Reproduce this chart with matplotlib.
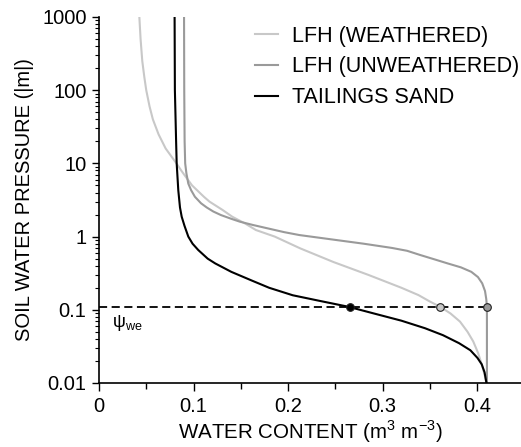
import numpy as np
import matplotlib
matplotlib.use('Agg')
import matplotlib.pyplot as plt
from matplotlib import ticker

plt.rcParams['font.family'] = ['Liberation Sans', 'DejaVu Sans']
plt.rcParams['mathtext.fontset'] = 'custom'
plt.rcParams['mathtext.rm'] = 'Liberation Sans'

# water retention curves: suction (m) vs water content
p_weath = [1000, 500, 250, 150, 100, 60, 40, 25, 16, 12, 10, 8, 6.5, 5, 3.5, 3.0, 2.3, 1.87,
           1.5, 1.23, 1.0, 0.69, 0.45, 0.3, 0.2, 0.159, 0.13, 0.11, 0.089, 0.069, 0.05,
           0.037, 0.026, 0.018, 0.013, 0.01]
th_weath = [0.0427, 0.0440, 0.0458, 0.0480, 0.0500, 0.0535, 0.0570, 0.0630, 0.0705, 0.0775,
            0.0820, 0.0870, 0.0920, 0.0985, 0.111, 0.117, 0.131, 0.141, 0.155, 0.166, 0.186,
            0.213, 0.248, 0.285, 0.320, 0.338, 0.350, 0.361, 0.372, 0.382, 0.390, 0.396,
            0.401, 0.405, 0.408, 0.410]

p_unweath = [1000, 100, 20, 10, 7.3, 5.3, 4.3, 3.5, 2.85, 2.5, 2.2, 1.97, 1.75, 1.6, 1.44, 1.3,
             1.15, 1.05, 0.92, 0.8, 0.7, 0.64, 0.56, 0.48, 0.43, 0.38, 0.33, 0.28, 0.23,
             0.18, 0.14, 0.11, 0.01]
th_unweath = [0.0900, 0.0902, 0.0906, 0.0912, 0.0925, 0.0945, 0.0975, 0.1015, 0.108, 0.114,
              0.121, 0.129, 0.140, 0.149, 0.163, 0.178, 0.196, 0.212, 0.245, 0.280, 0.310,
              0.326, 0.340, 0.357, 0.369, 0.383, 0.394, 0.401, 0.4055, 0.4085, 0.4098,
              0.4105, 0.4105]

p_sand = [1000, 100, 20, 10, 4.3, 2.5, 1.87, 1.4, 1.0, 0.8, 0.656, 0.5, 0.43, 0.33, 0.25,
          0.2, 0.158, 0.132, 0.11, 0.089, 0.071, 0.056, 0.045, 0.035, 0.028, 0.022, 0.018,
          0.014, 0.01]
th_sand = [0.0800, 0.0803, 0.0816, 0.0822, 0.0839, 0.0857, 0.0875, 0.0905, 0.0945, 0.0990,
           0.105, 0.115, 0.123, 0.140, 0.162, 0.180, 0.205, 0.234, 0.264, 0.291, 0.320,
           0.345, 0.364, 0.381, 0.393, 0.4005, 0.405, 0.408, 0.410]

labels = ['LFH (WEATHERED)', 'LFH (UNWEATHERED)', 'TAILINGS SAND']
line_cols = ['#c8c8c8', '#9a9a9a', 'black']

# water entry value and the water contents at that suction
psi_we = 0.11
th_we = [0.361, 0.4105, 0.266]

fig = plt.figure(figsize=(5.21, 4.47), dpi=100)
ax = fig.add_axes([99/521., 1 - 383/447., 1 - 99/521., 366/447.])

curves = [(th_weath, p_weath), (th_unweath, p_unweath), (th_sand, p_sand)]
for (th, p), c, lab in zip(curves, line_cols, labels):
    ax.plot(th, p, color=c, lw=1.5, label=lab, solid_joinstyle='round')

ax.plot([0, max(th_we)], [psi_we, psi_we], '--', color='black', lw=1.3, dashes=(4.5, 2.5), zorder=3)
for th, c in zip(th_we, line_cols):
    ax.plot(th, psi_we, 'o', ms=5.5, mfc=c, mec='#222222', mew=0.8, zorder=4)

ax.text(0.014, 0.066, r'ψ$_{\rm we}$', fontsize=13, ha='left', va='center')

ax.set_yscale('log')
ax.set_ylim(0.01, 1000)
ax.set_xlim(0, (521 - 99) / 945.)
ax.set_xticks([0, 0.1, 0.2, 0.3, 0.4])
ax.set_xticklabels(['0', '0.1', '0.2', '0.3', '0.4'])
ax.xaxis.set_minor_locator(ticker.MultipleLocator(0.05))
ax.set_yticks([0.01, 0.1, 1, 10, 100, 1000])
ax.set_yticklabels(['0.01', '0.1', '1', '10', '100', '1000'])
ax.yaxis.set_minor_locator(ticker.LogLocator(base=10, subs=np.arange(2, 10)))
ax.yaxis.set_minor_formatter(ticker.NullFormatter())

ax.tick_params(axis='both', which='major', direction='out', labelsize=14.5, width=1, pad=4)
ax.tick_params(axis='y', which='major', length=5)
ax.tick_params(axis='y', which='minor', length=3, width=0.8)
ax.tick_params(axis='x', which='major', length=6)
ax.tick_params(axis='x', which='minor', length=4, width=1)

for s in ['top', 'right']:
    ax.spines[s].set_visible(False)
for s in ['left', 'bottom']:
    ax.spines[s].set_linewidth(1.2)

ax.set_xlabel(r'WATER CONTENT (m$^{3}$ m$^{-3}$)', fontsize=14.8, labelpad=2)
ax.set_ylabel('SOIL WATER PRESSURE (|m|)', fontsize=14.5, labelpad=6)

ax.legend(loc='upper left', bbox_to_anchor=(0.37, 0.976), frameon=False, fontsize=15.5,
          handlelength=1.05, handletextpad=0.65, labelspacing=0.45, borderpad=0, borderaxespad=0)

plt.savefig('out.png', dpi=100)
